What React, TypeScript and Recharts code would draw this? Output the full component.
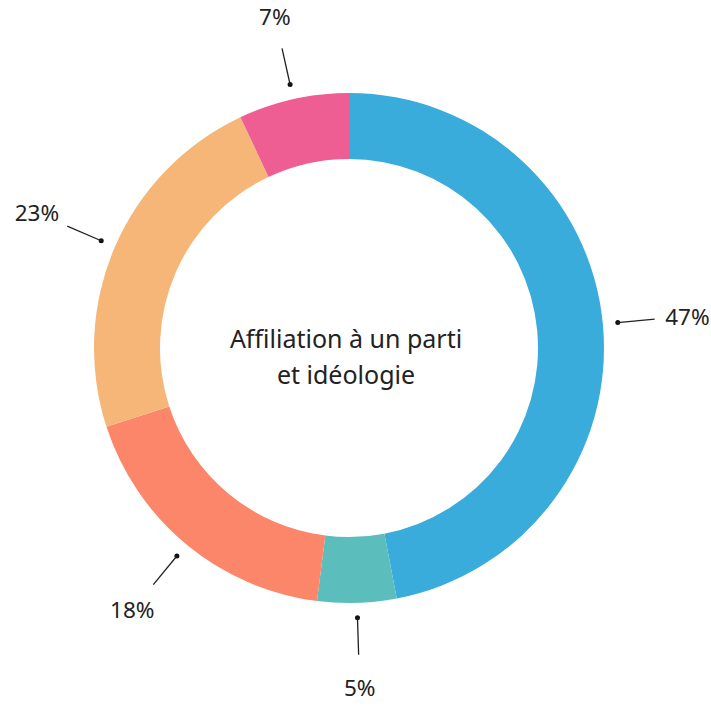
import { PieChart, Pie, Cell } from 'recharts'

// ─── Data ─────────────────────────────────────────────────────────────────────

const segments = ['Bleu', 'Sarcelle', 'Saumon', 'Orange', 'Rose']
const shares = [47, 5, 18, 23, 7]
const colors = ['#3aacdc', '#5bbdbc', '#fb866a', '#f5b678', '#ee5e93']
const titleLines = ['Affiliation à un parti', 'et idéologie']

const RADIAN = Math.PI / 180

// ─── Label with leader line ───────────────────────────────────────────────────

function LeaderLabel(props: any) {
  const { cx, cy, midAngle, value } = props
  const cos = Math.cos(-midAngle * RADIAN)
  const sin = Math.sin(-midAngle * RADIAN)
  const dot = 270
  const end = 307
  const txt = 340
  return (
    <g>
      <circle cx={cx + dot * cos} cy={cy + dot * sin} r={2.5} fill="#111" />
      <line
        x1={cx + dot * cos} y1={cy + dot * sin}
        x2={cx + end * cos} y2={cy + end * sin}
        stroke="#222" strokeWidth={1.3}
      />
      <text
        x={cx + txt * cos} y={cy + txt * sin}
        textAnchor="middle" dominantBaseline="central"
        fontFamily="'Noto Sans', sans-serif" fontSize={22.5} fill="#222"
      >
        {value}%
      </text>
    </g>
  )
}

// ─── Component ────────────────────────────────────────────────────────────────

export default function App() {
  const data = segments.map((name, i) => ({ name, value: shares[i] }))

  return (
    <div style={{ position: 'absolute', left: 0, top: 0, width: 711, height: 707, background: '#fff' }}>
      <PieChart width={711} height={707} margin={{ top: 0, right: 0, bottom: 0, left: 0 }}>
        <Pie
          data={data}
          dataKey="value"
          cx={349}
          cy={348}
          innerRadius={189}
          outerRadius={255}
          startAngle={90}
          endAngle={-270}
          stroke="none"
          label={LeaderLabel}
          labelLine={false}
          isAnimationActive={false}
        >
          {data.map((d, i) => <Cell key={d.name} fill={colors[i]} />)}
        </Pie>
        <text
          x={346} y={338} textAnchor="middle" dominantBaseline="central"
          fontFamily="'Noto Sans', sans-serif" fontSize={25} fill="#222"
        >
          {titleLines[0]}
        </text>
        <text
          x={346} y={374} textAnchor="middle" dominantBaseline="central"
          fontFamily="'Noto Sans', sans-serif" fontSize={25} fill="#222"
        >
          {titleLines[1]}
        </text>
      </PieChart>
    </div>
  )
}
